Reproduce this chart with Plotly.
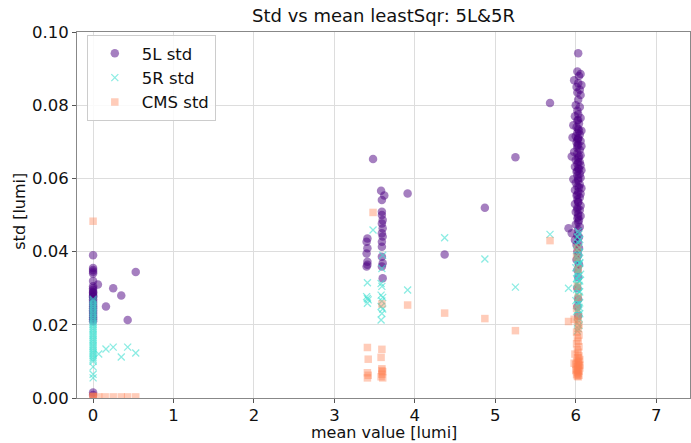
import plotly.graph_objects as go

# ---- data ----
L5_points = [
    # cluster near 0
    (0, 0.039), (0, 0.0355), (0, 0.035), (0, 0.0345), (0, 0.034), (0, 0.032), (0, 0.0305), (0, 0.030),
    (0, 0.0295), (0, 0.029), (0, 0.0288), (0, 0.0285), (0, 0.028), (0, 0.0278), (0, 0.0275), (0, 0.027),
    (0, 0.0265), (0, 0.026), (0, 0.0255), (0, 0.025), (0, 0.0245), (0, 0.024), (0, 0.0235), (0, 0.023),
    (0, 0.0225), (0, 0.022), (0, 0.0215), (0, 0.021), (0, 0.0015), (0, 0.0008),
    (0.06, 0.031), (0.16, 0.025), (0.25, 0.030), (0.35, 0.028), (0.43, 0.0213), (0.53, 0.0344),
    # cluster near 3.5
    (3.48, 0.0653), (3.58, 0.0566), (3.62, 0.0553), (3.59, 0.0541), (3.91, 0.0559), (4.87, 0.052),
    (5.25, 0.0658), (4.37, 0.0392),
    (3.41, 0.0436), (3.40, 0.0427), (3.41, 0.0409), (3.40, 0.0395), (3.41, 0.0372), (3.40, 0.0359), (3.41, 0.0364),
    (3.59, 0.0509), (3.59, 0.0500), (3.60, 0.0486), (3.59, 0.0477), (3.60, 0.0464), (3.59, 0.0450),
    (3.60, 0.0441), (3.59, 0.0427), (3.59, 0.0413), (3.59, 0.0386), (3.60, 0.0368), (3.59, 0.0359), (3.60, 0.0327),
    (5.68, 0.0806),
    # cluster near 6
    (6.03, 0.0942), (6.02, 0.0892), (6.06, 0.0885), (6.04, 0.0880), (5.98, 0.0868), (6.03, 0.0860), (6.07, 0.0855),
    (6.01, 0.0850), (6.05, 0.0842), (6.02, 0.0835), (6.06, 0.0828), (6.03, 0.0815), (6.00, 0.0800), (6.05, 0.0795),
    (6.02, 0.0785), (6.03, 0.0775), (5.99, 0.0770), (6.06, 0.0765), (6.02, 0.0758), (6.04, 0.0750), (5.97, 0.0745),
    (6.01, 0.0740), (6.03, 0.0735), (6.07, 0.0730), (6.02, 0.0725), (6.05, 0.0720), (6.00, 0.0715), (5.96, 0.0712),
    (6.03, 0.0708), (6.06, 0.0702), (6.01, 0.0698), (6.03, 0.0692), (6.07, 0.0688), (6.02, 0.0683), (6.05, 0.0678),
    (5.98, 0.0672), (6.02, 0.0668), (6.06, 0.0663), (5.95, 0.0660), (6.03, 0.0655), (6.00, 0.0650), (6.05, 0.0645),
    (6.02, 0.0640), (6.06, 0.0636), (5.99, 0.0632), (6.03, 0.0628), (6.07, 0.0622), (6.01, 0.0618), (6.05, 0.0612),
    (6.02, 0.0608), (6.06, 0.0602), (5.97, 0.0598), (6.03, 0.0594), (6.00, 0.0588), (6.05, 0.0583), (6.02, 0.0578),
    (6.07, 0.0573), (5.99, 0.0568), (6.03, 0.0563), (6.06, 0.0558), (6.01, 0.0553), (6.05, 0.0548), (6.02, 0.0542),
    (6.03, 0.0536), (5.99, 0.0530), (6.06, 0.0525), (6.02, 0.0520), (6.05, 0.0514), (6.00, 0.0508), (6.03, 0.0503),
    (6.06, 0.0497), (6.02, 0.0491), (6.04, 0.0486), (6.03, 0.0480), (6.00, 0.0474), (6.05, 0.0468), (5.91, 0.0464),
    (6.03, 0.0460), (5.95, 0.0450), (6.02, 0.0445), (6.04, 0.0440), (5.99, 0.0432), (6.03, 0.0425), (6.01, 0.0418),
    (6.04, 0.0410), (6.02, 0.0400), (6.03, 0.0390), (6.01, 0.0378), (6.04, 0.0365), (6.02, 0.0350), (6.03, 0.0330),
    (6.02, 0.0300), (6.03, 0.0270), (6.02, 0.0250), (6.03, 0.0225),
    (6.03, 0.0710), (6.02, 0.0690), (6.04, 0.0660), (6.03, 0.0645), (6.02, 0.0620), (6.03, 0.0600), (6.04, 0.0575),
    (6.02, 0.0555), (6.03, 0.0535), (6.02, 0.0515), (6.03, 0.0495), (6.04, 0.0730), (6.03, 0.0760), (6.02, 0.0705),
    (6.04, 0.0625),
]

R5_points = [
    # cluster near 0
    (0, 0.027), (0, 0.0265), (0, 0.026), (0, 0.0255), (0, 0.025), (0, 0.0245), (0, 0.024), (0, 0.0235),
    (0, 0.023), (0, 0.0225), (0, 0.022), (0, 0.0215), (0, 0.021), (0, 0.0205), (0, 0.020), (0, 0.0195),
    (0, 0.019), (0, 0.0185), (0, 0.018), (0, 0.0175), (0, 0.017), (0, 0.0165), (0, 0.016), (0, 0.0155),
    (0, 0.015), (0, 0.0145), (0, 0.014), (0, 0.0135), (0, 0.013), (0, 0.0125), (0, 0.012), (0, 0.0115),
    (0, 0.011), (0, 0.0105), (0, 0.010), (0, 0.0085), (0, 0.0065), (0, 0.0055),
    (0.07, 0.012), (0.16, 0.0134), (0.25, 0.0139), (0.35, 0.0112), (0.43, 0.0139), (0.53, 0.0123),
    # cluster near 3.5
    (3.48, 0.0459), (4.37, 0.0438), (4.87, 0.038), (3.91, 0.0295), (5.25, 0.0303),
    (3.41, 0.0315), (3.40, 0.0277), (3.41, 0.0272), (3.42, 0.0268), (3.41, 0.0259),
    (3.60, 0.039), (3.59, 0.0354), (3.58, 0.0313), (3.59, 0.0305), (3.58, 0.0281), (3.60, 0.0275),
    (3.59, 0.0265), (3.58, 0.025), (3.60, 0.0243), (3.59, 0.0231), (3.58, 0.0213),
    (5.68, 0.0447),
    # cluster near 6
    (6.03, 0.0455), (6.04, 0.0448), (6.02, 0.0440), (6.05, 0.0433), (6.03, 0.0425), (6.01, 0.0418), (6.04, 0.0412),
    (6.02, 0.0405), (6.05, 0.0398), (6.03, 0.0392), (6.01, 0.0386), (6.04, 0.0380), (6.02, 0.0374), (6.05, 0.0368),
    (6.03, 0.0362), (6.00, 0.0356), (6.04, 0.0350), (6.02, 0.0344), (6.06, 0.0338), (6.03, 0.0332), (6.01, 0.0326),
    (6.05, 0.0320), (6.02, 0.0314), (6.04, 0.0308), (5.91, 0.0300), (6.03, 0.0302), (6.01, 0.0296), (6.05, 0.0290),
    (6.02, 0.0284), (6.04, 0.0278), (6.03, 0.0272), (6.00, 0.0266), (6.05, 0.0260), (6.02, 0.0254), (6.04, 0.0248),
    (6.03, 0.0242), (6.01, 0.0236), (6.05, 0.0230), (6.02, 0.0224), (6.04, 0.0218), (6.03, 0.0212), (6.02, 0.0205),
    (6.04, 0.0198), (6.03, 0.0190), (6.02, 0.0183), (6.04, 0.0320), (6.03, 0.0350), (6.02, 0.0380), (6.04, 0.0290),
    (6.03, 0.0260), (6.02, 0.0340), (6.05, 0.0370), (6.01, 0.0310), (6.04, 0.0240), (6.03, 0.0400),
]

CMS_points = [
    # cluster near 0
    (0, 0.0483), (0, 0.0004), (0, 0.0003), (0, 0.0005), (0.07, 0.0003), (0.15, 0.0003), (0.25, 0.0003),
    (0.35, 0.0003), (0.43, 0.0003), (0.53, 0.0003),
    # cluster near 3.5
    (3.48, 0.0507), (3.91, 0.0254), (4.37, 0.0232), (4.87, 0.0217), (5.25, 0.0184), (3.59, 0.0257),
    (3.41, 0.0138), (3.42, 0.0106), (3.41, 0.0069), (3.41, 0.0055), (3.42, 0.0062),
    (3.59, 0.0133), (3.58, 0.0111), (3.59, 0.0080), (3.60, 0.0072), (3.59, 0.0065), (3.58, 0.0058),
    (3.60, 0.0055), (3.59, 0.0075),
    (5.68, 0.0430), (5.91, 0.0209),
    # cluster near 6
    (6.02, 0.0410), (6.01, 0.0385), (6.03, 0.0352), (6.02, 0.0305), (6.03, 0.0275), (6.01, 0.0245), (5.98, 0.0215),
    (6.03, 0.0222), (6.02, 0.0210), (6.04, 0.0200), (6.03, 0.0190), (6.01, 0.0180), (6.04, 0.0172), (6.02, 0.0165),
    (6.03, 0.0155), (6.01, 0.0148), (6.04, 0.0140), (6.02, 0.0132), (6.03, 0.0125), (5.99, 0.0120), (6.04, 0.0115),
    (6.02, 0.0110), (6.05, 0.0105), (6.01, 0.0100), (6.03, 0.0096), (6.00, 0.0092), (6.04, 0.0088), (6.02, 0.0085),
    (6.05, 0.0082), (6.01, 0.0079), (6.03, 0.0076), (6.04, 0.0073), (6.02, 0.0070), (6.03, 0.0067), (6.01, 0.0064),
    (6.04, 0.0062), (6.02, 0.0060), (6.03, 0.0058), (6.03, 0.0090), (6.02, 0.0080), (6.04, 0.0100), (6.03, 0.0110),
    (5.98, 0.0095), (6.05, 0.0090), (6.00, 0.0075),
]

x_ticks = [0, 1, 2, 3, 4, 5, 6, 7]
y_ticks = [0.00, 0.02, 0.04, 0.06, 0.08, 0.10]
y_tick_labels = ["0.00", "0.02", "0.04", "0.06", "0.08", "0.10"]

FONT = "DejaVu Sans"
TXT = "#111111"

fig = go.Figure()
fig.add_trace(go.Scatter(
    x=[p[0] for p in L5_points], y=[p[1] for p in L5_points], mode="markers", name="5L std",
    marker=dict(symbol="circle", size=8.5, color="rgba(75,0,130,0.5)", line=dict(width=0)),
))
fig.add_trace(go.Scatter(
    x=[p[0] for p in R5_points], y=[p[1] for p in R5_points], mode="markers", name="5R std",
    marker=dict(symbol="x-thin", size=7, color="rgba(64,224,208,0.6)",
                line=dict(width=1.3, color="rgba(64,224,208,0.6)")),
))
fig.add_trace(go.Scatter(
    x=[p[0] for p in CMS_points], y=[p[1] for p in CMS_points], mode="markers", name="CMS std",
    marker=dict(symbol="square", size=7.5, color="rgba(255,127,80,0.4)", line=dict(width=0)),
))

axis_common = dict(
    showgrid=True, gridcolor="#dddddd", gridwidth=1, zeroline=False,
    showline=True, linecolor="#888888", linewidth=1, mirror=True,
    ticks="outside", ticklen=4, tickcolor="#555555",
    tickfont=dict(family=FONT, size=16.5, color=TXT),
    automargin=False,
)

fig.update_layout(
    width=691, height=443,
    margin=dict(l=77, r=1, t=32, b=45),
    paper_bgcolor="white", plot_bgcolor="white",
    title=dict(text="Std vs mean leastSqr: 5L&5R", x=0.5, xanchor="center", xref="paper",
               y=0.965, yanchor="middle",
               font=dict(family=FONT, size=18, color=TXT)),
    showlegend=True,
    legend=dict(x=0.016, y=0.992, xanchor="left", yanchor="top",
                bgcolor="rgba(255,255,255,0.85)", bordercolor="#cccccc", borderwidth=1,
                font=dict(family=FONT, size=16.5, color=TXT), itemsizing="trace", itemwidth=44),
    xaxis=dict(range=[-0.2, 7.42], tickvals=x_ticks, ticktext=[str(t) for t in x_ticks],
               ticklabelstandoff=-2, **axis_common),
    yaxis=dict(range=[0, 0.1], tickvals=y_ticks, ticktext=y_tick_labels, **axis_common),
    annotations=[
        dict(text="mean value [lumi]", xref="paper", yref="paper", x=0.5, y=-0.094,
             xanchor="center", yanchor="middle", showarrow=False,
             font=dict(family=FONT, size=16, color=TXT)),
        dict(text="std [lumi]", xref="paper", yref="paper", x=-0.094, y=0.51,
             xanchor="center", yanchor="middle", showarrow=False, textangle=-90,
             font=dict(family=FONT, size=16, color=TXT)),
    ],
)

fig.write_html("out.html", config={"displayModeBar": False},
               post_script="document.body.style.margin='0';")
